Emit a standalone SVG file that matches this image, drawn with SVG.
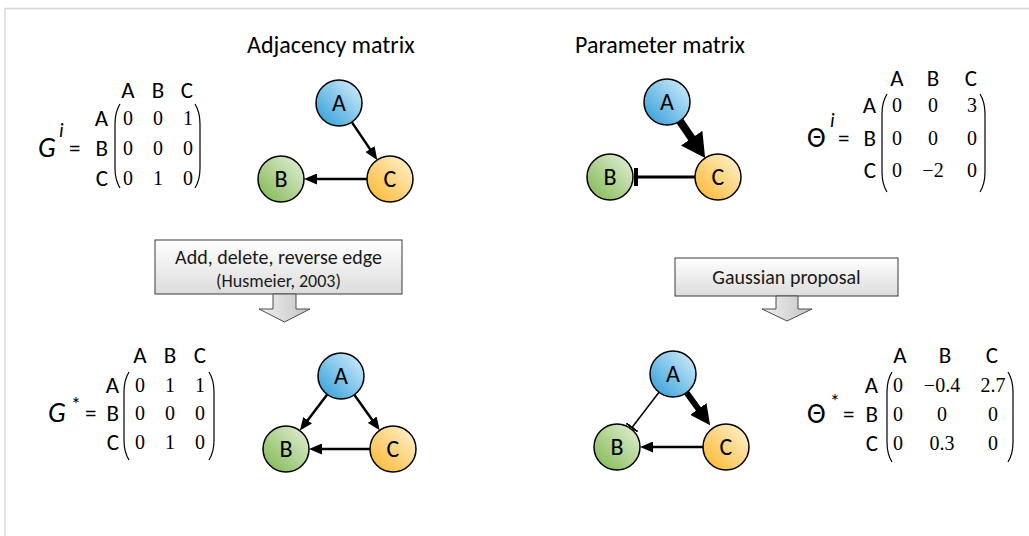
<svg xmlns="http://www.w3.org/2000/svg" width="1029" height="536" viewBox="0 0 1029 536">
  <style>
    .lbl { font-family: Carlito, Lato, "Open Sans", sans-serif; font-size: 23px; fill: #000; }
    .title { font-family: Carlito, Lato, "Open Sans", sans-serif; font-size: 24px; fill: #000; }
    .num { font-family: "Liberation Serif", serif; font-size: 20px; fill: #000; text-anchor: middle; }
    .hdr { text-anchor: middle; }
    .row { text-anchor: end; }
    .sym { font-family: Carlito, Lato, "Open Sans", sans-serif; font-size: 28px; fill: #000; }
    .it { font-style: italic; }
    .sup { font-family: Carlito, Lato, "Open Sans", sans-serif; font-size: 20px; fill: #000; }
    .paren { fill: none; stroke: #000; stroke-width: 1.2; }
    .node circle { stroke: #000; stroke-width: 1.5; }
    .node text { font-family: Carlito, Lato, "Open Sans", sans-serif; font-size: 24px; fill: #000; text-anchor: middle; }
    .edge { stroke: #000; fill: none; }
    .box { stroke: #3a3a3a; stroke-width: 1; fill: url(#boxGrad); }
    .blk { stroke: #4d4d4d; stroke-width: 1; fill: url(#blkGrad); }
    .boxtxt { font-family: Carlito, Lato, "Open Sans", sans-serif; fill: #1a1a1a; text-anchor: middle; }
  </style>
  <defs>
    <linearGradient id="gBlue" x1="0" y1="1" x2="1" y2="0">
      <stop offset="0" stop-color="#2b9bd8"/>
      <stop offset="1" stop-color="#d9f0fc"/>
    </linearGradient>
    <linearGradient id="gGreen" x1="0" y1="1" x2="1" y2="0">
      <stop offset="0" stop-color="#7db64c"/>
      <stop offset="1" stop-color="#e6f1dc"/>
    </linearGradient>
    <linearGradient id="gOrange" x1="0" y1="1" x2="1" y2="0">
      <stop offset="0" stop-color="#fbb52a"/>
      <stop offset="1" stop-color="#fff4d6"/>
    </linearGradient>
    <linearGradient id="boxGrad" x1="0" y1="0" x2="0" y2="1">
      <stop offset="0" stop-color="#ffffff"/>
      <stop offset="1" stop-color="#dcdcdc"/>
    </linearGradient>
    <linearGradient id="blkGrad" x1="0" y1="0" x2="1" y2="0">
      <stop offset="0" stop-color="#f0f0f0"/>
      <stop offset="1" stop-color="#c4c4c4"/>
    </linearGradient>
    <!-- normal arrowhead: tip sits 6px beyond line end -->
    <marker id="arr" markerUnits="userSpaceOnUse" markerWidth="13" markerHeight="11" viewBox="0 0 13 11" refX="7" refY="5.5" orient="auto">
      <path d="M0,0 L13,5.5 L0,11 z" fill="#000"/>
    </marker>
    <!-- heavy arrowhead for strong positive weight -->
    <marker id="arrBig" markerUnits="userSpaceOnUse" markerWidth="24" markerHeight="26" viewBox="0 0 24 26" refX="14" refY="13" orient="auto">
      <path d="M0,0 L24,13 L0,26 z" fill="#000"/>
    </marker>
    <marker id="arrMid" markerUnits="userSpaceOnUse" markerWidth="20" markerHeight="20" viewBox="0 0 20 20" refX="12" refY="10" orient="auto">
      <path d="M0,0 L20,10 L0,20 z" fill="#000"/>
    </marker>
    <!-- inhibition bars -->
    <marker id="tbar" markerUnits="userSpaceOnUse" markerWidth="4" markerHeight="18" viewBox="0 0 4 18" refX="2" refY="9" orient="auto">
      <rect x="0" y="0" width="4" height="18" fill="#000"/>
    </marker>
    <marker id="tbarThin" markerUnits="userSpaceOnUse" markerWidth="2" markerHeight="14" viewBox="0 0 2 14" refX="1" refY="7" orient="auto">
      <rect x="0" y="0" width="2" height="14" fill="#000"/>
    </marker>
  </defs>

  <rect width="1029" height="536" fill="#fff"/>
  <!-- frame -->
  <path d="M5,536 L5,8.5 L1029,8.5" fill="none" stroke="#d9d9d9" stroke-width="1.5"/>

  <!-- headings -->
  <text class="title" x="247" y="53">Adjacency matrix</text>
  <text class="title" x="575" y="53">Parameter matrix</text>

  <!-- adjacency matrix G^i -->
  <g id="matrix-Gi">
    <text class="sym it" x="38" y="157">G</text>
    <text class="sup it" x="59" y="137">i</text>
    <text class="lbl" x="69" y="156">=</text>
    <text class="lbl hdr" x="128" y="98">A</text>
    <text class="lbl hdr" x="158" y="98">B</text>
    <text class="lbl hdr" x="187" y="98">C</text>
    <text class="lbl row" x="108" y="126">A</text>
    <text class="lbl row" x="108" y="156">B</text>
    <text class="lbl row" x="108" y="186">C</text>
    <path class="paren" d="M120,104 Q115,112 115,124 L115,168 Q115,180 120,188"/>
    <path class="paren" d="M195,104 Q200,112 200,124 L200,168 Q200,180 195,188"/>
    <text class="num" x="128" y="125">0</text><text class="num" x="158" y="125">0</text><text class="num" x="188" y="125">1</text>
    <text class="num" x="128" y="155">0</text><text class="num" x="158" y="155">0</text><text class="num" x="188" y="155">0</text>
    <text class="num" x="128" y="185">0</text><text class="num" x="158" y="185">1</text><text class="num" x="188" y="185">0</text>
  </g>

  <!-- parameter matrix Theta^i -->
  <g id="matrix-Thi">
    <text class="sym" x="807" y="147">Θ</text>
    <text class="sup it" x="830" y="127">i</text>
    <text class="lbl" x="838" y="146">=</text>
    <text class="lbl hdr" x="897" y="86">A</text>
    <text class="lbl hdr" x="933" y="86">B</text>
    <text class="lbl hdr" x="971" y="86">C</text>
    <text class="lbl row" x="876" y="113">A</text>
    <text class="lbl row" x="876" y="146">B</text>
    <text class="lbl row" x="876" y="178">C</text>
    <path class="paren" d="M887,94 Q882,102 882,114 L882,172 Q882,184 887,192"/>
    <path class="paren" d="M980,94 Q985,102 985,114 L985,172 Q985,184 980,192"/>
    <text class="num" x="897" y="112">0</text><text class="num" x="933" y="112">0</text><text class="num" x="972" y="112">3</text>
    <text class="num" x="897" y="145">0</text><text class="num" x="933" y="145">0</text><text class="num" x="972" y="145">0</text>
    <text class="num" x="897" y="177">0</text><text class="num" x="933" y="177">−2</text><text class="num" x="972" y="177">0</text>
  </g>

  <!-- proposed adjacency matrix G* -->
  <g id="matrix-Gs">
    <text class="sym it" x="48" y="422">G</text>
    <text class="sup" x="71" y="411">*</text>
    <text class="lbl" x="85" y="421">=</text>
    <text class="lbl hdr" x="140" y="363">A</text>
    <text class="lbl hdr" x="170" y="363">B</text>
    <text class="lbl hdr" x="200" y="363">C</text>
    <text class="lbl row" x="119" y="393">A</text>
    <text class="lbl row" x="119" y="421">B</text>
    <text class="lbl row" x="119" y="450">C</text>
    <path class="paren" d="M129,372 Q124,380 124,392 L124,440 Q124,452 129,460"/>
    <path class="paren" d="M209,372 Q214,380 214,392 L214,440 Q214,452 209,460"/>
    <text class="num" x="140" y="392">0</text><text class="num" x="170" y="392">1</text><text class="num" x="200" y="392">1</text>
    <text class="num" x="140" y="420">0</text><text class="num" x="170" y="420">0</text><text class="num" x="200" y="420">0</text>
    <text class="num" x="140" y="449">0</text><text class="num" x="170" y="449">1</text><text class="num" x="200" y="449">0</text>
  </g>

  <!-- proposed parameter matrix Theta* -->
  <g id="matrix-Ths">
    <text class="sym" x="807" y="423">Θ</text>
    <text class="sup" x="830" y="408">*</text>
    <text class="lbl" x="843" y="422">=</text>
    <text class="lbl hdr" x="900" y="363">A</text>
    <text class="lbl hdr" x="945" y="363">B</text>
    <text class="lbl hdr" x="992" y="363">C</text>
    <text class="lbl row" x="878" y="393">A</text>
    <text class="lbl row" x="878" y="422">B</text>
    <text class="lbl row" x="878" y="451">C</text>
    <path class="paren" d="M892,372 Q887,380 887,392 L887,442 Q887,454 892,462"/>
    <path class="paren" d="M1008,372 Q1013,380 1013,392 L1013,442 Q1013,454 1008,462"/>
    <text class="num" x="898" y="392">0</text><text class="num" x="942" y="392">−0.4</text><text class="num" x="993" y="392">2.7</text>
    <text class="num" x="898" y="421">0</text><text class="num" x="942" y="421">0</text><text class="num" x="993" y="421">0</text>
    <text class="num" x="898" y="450">0</text><text class="num" x="942" y="450">0.3</text><text class="num" x="993" y="450">0</text>
  </g>

  <!-- proposal boxes -->
  <g id="box-structure">
    <rect class="box" x="155" y="240" width="247" height="54"/>
    <text class="boxtxt" x="278.5" y="264" font-size="20">Add, delete, reverse edge</text>
    <text class="boxtxt" x="278.5" y="287" font-size="18">(Husmeier, 2003)</text>
    <polygon class="blk" points="273,294 296,294 296,309 310,309 284.5,322 259,309 273,309"/>
  </g>
  <g id="box-gaussian">
    <rect class="box" x="675" y="258" width="223" height="38"/>
    <text class="boxtxt" x="786.5" y="284" font-size="20">Gaussian proposal</text>
    <polygon class="blk" points="776,296 798,296 798,309 812,309 787,321 762,309 776,309"/>
  </g>

  <!-- edges -->
  <g id="connectors">
    <!-- top-left graph -->
    <line class="edge" stroke-width="2.5" x1="351.8" y1="122.1" x2="373.9" y2="154.9" marker-end="url(#arr)"/>
    <line class="edge" stroke-width="2.5" x1="367" y1="179" x2="310" y2="179" marker-end="url(#arr)"/>
    <!-- top-right graph -->
    <line class="edge" stroke-width="8" x1="679.9" y1="121" x2="699.5" y2="149.7" marker-end="url(#arrBig)"/>
    <line class="edge" stroke-width="3" x1="695" y1="177" x2="636" y2="177" marker-end="url(#tbar)"/>
    <!-- bottom-left graph -->
    <line class="edge" stroke-width="2.5" x1="327.2" y1="394.4" x2="303.5" y2="425.8" marker-end="url(#arr)"/>
    <line class="edge" stroke-width="2.5" x1="354.3" y1="394.7" x2="376.2" y2="425.4" marker-end="url(#arr)"/>
    <line class="edge" stroke-width="2.5" x1="370" y1="449" x2="315" y2="449" marker-end="url(#arr)"/>
    <!-- bottom-right graph -->
    <line class="edge" stroke-width="1.5" x1="659" y1="392.2" x2="632" y2="427.5" marker-end="url(#tbarThin)"/>
    <line class="edge" stroke-width="6" x1="686.5" y1="392.6" x2="705.4" y2="418.7" marker-end="url(#arrMid)"/>
    <line class="edge" stroke-width="2.5" x1="703" y1="447" x2="646" y2="447" marker-end="url(#arr)"/>
  </g>

  <!-- nodes: top-left graph -->
  <g id="g1-A" class="node"><circle cx="339" cy="103" r="23" fill="url(#gBlue)"/><text x="339" y="111">A</text></g>
  <g id="g1-B" class="node"><circle cx="281" cy="179" r="23" fill="url(#gGreen)"/><text x="281" y="187">B</text></g>
  <g id="g1-C" class="node"><circle cx="390" cy="179" r="23" fill="url(#gOrange)"/><text x="390" y="187">C</text></g>
  <!-- nodes: top-right graph -->
  <g id="g2-A" class="node"><circle cx="667" cy="102" r="23" fill="url(#gBlue)"/><text x="667" y="110">A</text></g>
  <g id="g2-B" class="node"><circle cx="610" cy="177" r="23" fill="url(#gGreen)"/><text x="610" y="185">B</text></g>
  <g id="g2-C" class="node"><circle cx="718" cy="177" r="23" fill="url(#gOrange)"/><text x="718" y="185">C</text></g>
  <!-- nodes: bottom-left graph -->
  <g id="g3-A" class="node"><circle cx="341" cy="376" r="23" fill="url(#gBlue)"/><text x="341" y="384">A</text></g>
  <g id="g3-B" class="node"><circle cx="286" cy="449" r="23" fill="url(#gGreen)"/><text x="286" y="457">B</text></g>
  <g id="g3-C" class="node"><circle cx="393" cy="449" r="23" fill="url(#gOrange)"/><text x="393" y="457">C</text></g>
  <!-- nodes: bottom-right graph -->
  <g id="g4-A" class="node"><circle cx="673" cy="374" r="23" fill="url(#gBlue)"/><text x="673" y="382">A</text></g>
  <g id="g4-B" class="node"><circle cx="617" cy="447" r="23" fill="url(#gGreen)"/><text x="617" y="455">B</text></g>
  <g id="g4-C" class="node"><circle cx="726" cy="447" r="23" fill="url(#gOrange)"/><text x="726" y="455">C</text></g>
</svg>
